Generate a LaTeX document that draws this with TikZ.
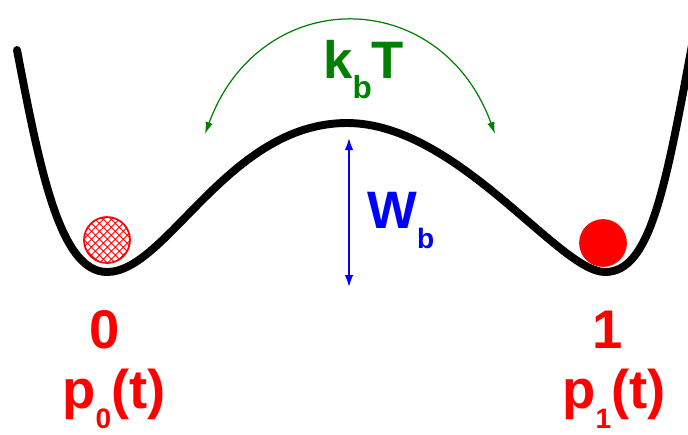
\documentclass[tikz,border=0pt]{standalone}
\usepackage{fontspec}
\setmainfont{Liberation Sans}
\usetikzlibrary{arrows.meta,patterns.meta}
\definecolor{kgreen}{RGB}{0,128,0}
\newcommand{\bigfont}{\fontsize{30}{30}\selectfont\bfseries}
\newcommand{\lowsub}[2]{\raisebox{-0.4cm}{\fontsize{#1}{#1}\selectfont #2}}

\begin{document}
\begin{tikzpicture}[x=0.02cm,y=-0.02cm,
    ball/.style={circle, draw=red, line width=1pt, minimum size=0.92cm, inner sep=0pt},
    lbl/.style={inner sep=0pt, font=\bigfont}]
        \clip (0,0) rectangle (688,434);
        \fill[white] (0,0) rectangle (688,434);
        % Potential
        \draw[line width=4.5pt, line cap=round] (17,50)
            .. controls (40,170) and (60,272) .. (107,272)
            .. controls (167,272) and (228,123) .. (347,123)
            .. controls (457,123) and (559,272) .. (605,272)
            .. controls (650,272) and (665,190) .. (692,45);
        % Balls
        \node[ball, pattern={Lines[angle=45,distance=3.2pt,line width=0.5pt]}, pattern color=red,
            postaction={pattern={Lines[angle=-45,distance=3.2pt,line width=0.5pt]}, pattern color=red}]
            (ball0) at (107,240) {};
        \node[ball, fill=red] (ball1) at (603,243) {};
        % Thermal hopping
        \coordinate (hopl) at (205,134);
        \coordinate (hopr) at (495,134);
        \draw[kgreen, line width=0.7pt, {Latex[length=0.24cm,width=0.15cm]}-{Latex[length=0.24cm,width=0.15cm]}]
            (hopl) .. controls (260,-16) and (440,-16) .. (hopr);
        \node[lbl, kgreen, anchor=base west] (kbt) at (323,78) {k\lowsub{18}{b}T};
        % Barrier
        \coordinate (top) at (349,137);
        \coordinate (bot) at (349,288);
        \draw[blue, line width=1.6pt, {Latex[length=0.26cm,width=0.17cm]}-{Latex[length=0.26cm,width=0.17cm]}] (top) -- (bot);
        \node[lbl, blue, anchor=base west] (wb) at (367,228) {W\lowsub{16}{b}};
        % States
        \node[lbl, red, anchor=base] (s0) at (105,348) {\fontsize{31}{31}\selectfont 0};
        \node[lbl, red, anchor=base] (s1) at (608,348) {\fontsize{31}{31}\selectfont 1};
        \node[lbl, red, anchor=base] (p0) at (114,408) {\fontsize{31}{31}\selectfont p\lowsub{16}{0}(t)};
        \node[lbl, red, anchor=base] (p1) at (614,408) {\fontsize{31}{31}\selectfont p\lowsub{16}{1}(t)};
    \end{tikzpicture}
\end{document}
